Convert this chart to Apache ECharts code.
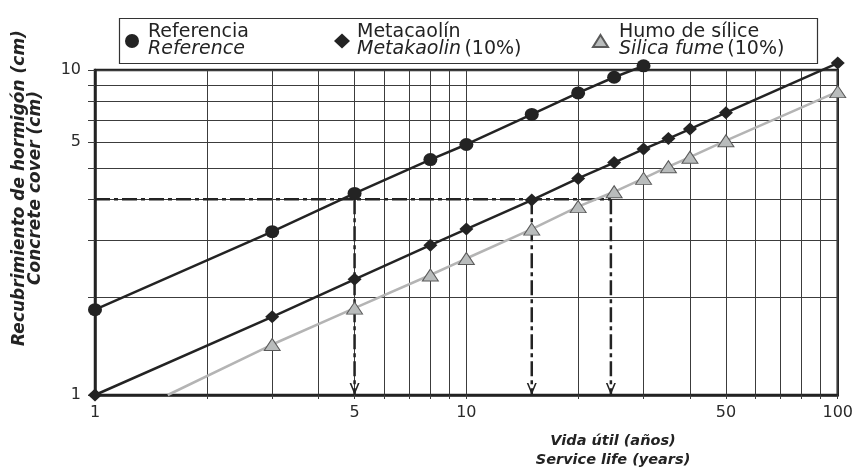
<!DOCTYPE html>
<html>
<head>
<meta charset="utf-8">
<script src="https://cdn.jsdelivr.net/npm/echarts@6/dist/echarts.min.js"></script>
<style>
  html, body { margin: 0; padding: 0; background: #ffffff; }
  #chart { width: 856px; height: 471px; }
</style>
</head>
<body>
<div id="chart"></div>
<script>
// Service life vs. concrete cover (log-log), three concrete mixes
const refYears = [1, 3, 5, 8, 10, 15, 20, 25, 30];
const refCover = [1.83, 3.18, 4.17, 5.3, 5.9, 7.3, 8.5, 9.5, 10.3];

const mkYears = [1, 3, 5, 8, 10, 15, 20, 25, 30, 35, 40, 50, 100];
const mkCover = [1, 1.74, 2.27, 2.89, 3.24, 3.98, 4.64, 5.19, 5.71, 6.15, 6.58, 7.39, 10.5];

const sfYears = [3, 5, 8, 10, 15, 20, 25, 30, 35, 40, 50, 100];
const sfCover = [1.43, 1.85, 2.34, 2.63, 3.24, 3.8, 4.22, 4.64, 5.04, 5.39, 6.06, 8.58];
const sfLineStart = [1.57, 1.0];          // fitted line starts here (no marker)

// design cover and the service lives it gives
const designCover = 4;
const designLives = [5, 15, 24.5];

// axis ticks / grid
const xGridValues = [1, 2, 3, 4, 5, 6, 7, 8, 9, 10, 20, 30, 40, 50, 60, 70, 80, 90, 100];
const xLabelValues = [1, 5, 10, 50, 100];
const yGridValues = [1, 2, 3, 4, 5, 6, 7, 8, 9, 10];
const yLabelValues = [1, 6, 10];
const yLabelTexts = ['1', '5', '10'];

const seriesNames = ['Referencia', 'Metacaolín', 'Humo de sílice'];
const legendTexts = {
  'Referencia': '{n|Referencia}\n{i|Reference}',
  'Metacaolín': '{n|Metacaolín}\n{i|Metakaolin} {n|(10%)}',
  'Humo de sílice': '{n|Humo de sílice}\n{i|Silica fume} {n|(10%)}'
};

const INK = '#232323';
const GRIDC = '#3c3c3c';
const FONT = 'DejaVu Sans';

const pairs = (xs, ys) => xs.map((x, i) => [x, ys[i]]);

const chart = echarts.init(document.getElementById('chart'), null, { renderer: 'canvas' });

const legendRich = {
  n: { fontFamily: FONT, fontSize: 19, color: INK, lineHeight: 17 },
  i: { fontFamily: FONT, fontSize: 19, fontStyle: 'italic', color: INK, lineHeight: 17 }
};
function makeLegend(name, left, icon, w, h, gap) {
  return {
    data: [name],
    left: left, top: 23,
    orient: 'horizontal',
    padding: 0,
    icon: icon,
    itemWidth: w, itemHeight: h,
    selectedMode: false,
    formatter: n => legendTexts[n],
    textStyle: { rich: legendRich, padding: [0, 0, 0, gap] }
  };
}

// dash-dot guide lines
const arrowHead = 'path://M0,0L5,12L10,0L8.3,0L5,8.2L1.7,0Z';
const guideSeries = [{
  type: 'line', silent: true, z: 3,
  data: [[1, designCover], [designLives[designLives.length - 1], designCover]],
  symbol: 'none',
  lineStyle: { color: INK, width: 2.5, type: [15, 4, 4, 4] },
  clip: false
}].concat(designLives.map(x => ({
  type: 'line', silent: true, z: 3,
  data: [
    { value: [x, designCover], symbol: 'none' },
    { value: [x, 1], symbol: arrowHead, symbolSize: [10, 12], symbolOffset: [0, -6] }
  ],
  symbol: 'none',
  itemStyle: { color: INK },
  lineStyle: { color: INK, width: 2.5, type: [15, 4, 4, 4] },
  clip: false
})));

const option = {
  backgroundColor: '#ffffff',
  animation: false,
  grid: {
    left: 95, right: 16, top: 70, bottom: 76,
    show: true, borderColor: INK, borderWidth: 2.5, backgroundColor: 'transparent'
  },
  legend: [
    makeLegend(seriesNames[0], 125, 'circle', 14, 14, 4),
    makeLegend(seriesNames[1], 334, 'diamond', 16, 15, 2),
    makeLegend(seriesNames[2], 592, 'triangle', 15, 12, 6)
  ],
  graphic: [
    {
      type: 'rect', z: -1, silent: true,
      shape: { x: 119.5, y: 18.5, width: 698, height: 45 },
      style: { fill: '#ffffff', stroke: '#333333', lineWidth: 1.2 }
    },
    {
      type: 'text', silent: true,
      x: 613, y: 451,
      style: {
        text: 'Vida útil (años)\nService life (years)',
        fontFamily: FONT, fontSize: 14.5, fontWeight: 'bold', fontStyle: 'italic',
        fill: INK, align: 'center', verticalAlign: 'middle', lineHeight: 19
      }
    },
    {
      type: 'text', silent: true,
      x: 28, y: 188, rotation: Math.PI / 2,
      style: {
        text: 'Recubrimiento de hormigón (cm)\nConcrete cover (cm)',
        fontFamily: FONT, fontSize: 17, fontWeight: 'bold', fontStyle: 'italic',
        fill: INK, align: 'center', verticalAlign: 'middle', lineHeight: 16
      }
    }
  ],
  xAxis: {
    type: 'log', logBase: 10, min: 1, max: 100,
    axisLine: { show: true, onZero: false, lineStyle: { color: INK, width: 2.5 } },
    axisTick: { show: true, inside: false, length: 4, customValues: xGridValues,
                lineStyle: { color: GRIDC, width: 1 } },
    axisLabel: { customValues: xLabelValues, margin: 10, color: '#2a2a2a',
                 fontFamily: FONT, fontSize: 16, formatter: v => String(Math.round(v)) },
    splitLine: { show: true, lineStyle: { color: GRIDC, width: 1 } },
    minorTick: { show: false }, minorSplitLine: { show: false }
  },
  yAxis: {
    type: 'log', logBase: 10, min: 1, max: 10,
    axisLine: { show: true, onZero: false, lineStyle: { color: INK, width: 2.5 } },
    axisTick: { show: true, inside: false, length: 7, customValues: yGridValues,
                lineStyle: { color: GRIDC, width: 1 } },
    axisLabel: { customValues: yLabelValues, margin: 14, color: '#2a2a2a',
                 fontFamily: FONT, fontSize: 16,
                 formatter: v => yLabelTexts[yLabelValues.indexOf(Math.round(v))] },
    splitLine: { show: true, lineStyle: { color: GRIDC, width: 1 } }
  },
  series: guideSeries.concat([
    {
      name: seriesNames[2], type: 'line', z: 4, clip: false,
      data: [{ value: sfLineStart, symbol: 'none' }].concat(pairs(sfYears, sfCover)),
      symbol: 'triangle', symbolSize: [16, 12], showAllSymbol: true,
      lineStyle: { color: '#b4b4b4', width: 2.5 },
      itemStyle: { color: '#b9bcbc', borderColor: '#5a5a5a', borderWidth: 1, opacity: 1 }
    },
    {
      name: seriesNames[1], type: 'line', z: 5, clip: false,
      data: pairs(mkYears, mkCover),
      symbol: 'diamond', symbolSize: [14, 13], showAllSymbol: true,
      lineStyle: { color: INK, width: 2.5 },
      itemStyle: { color: INK, borderWidth: 0 }
    },
    {
      name: seriesNames[0], type: 'line', z: 6, clip: false,
      data: pairs(refYears, refCover),
      symbol: 'circle', symbolSize: [14, 13], showAllSymbol: true,
      lineStyle: { color: INK, width: 2.5 },
      itemStyle: { color: INK, borderWidth: 0 }
    }
  ])
};

chart.setOption(option);
</script>
</body>
</html>
